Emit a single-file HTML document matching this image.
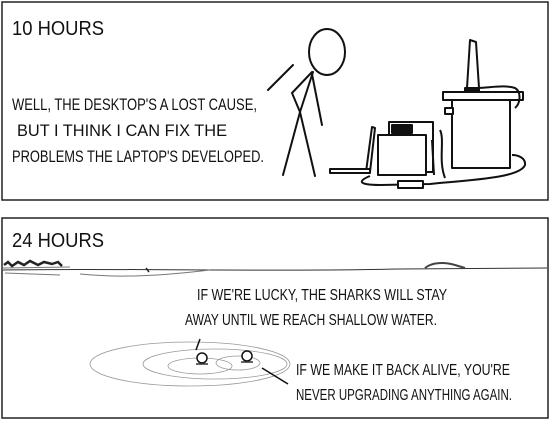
<!DOCTYPE html>
<html><head><meta charset="utf-8"><style>
html,body{margin:0;padding:0;background:#fff;}
svg{display:block;}
text{font-family:"Liberation Sans",sans-serif;fill:#111;}
</style></head><body>
<svg width="550" height="421" viewBox="0 0 550 421" xmlns="http://www.w3.org/2000/svg">
<g>
<rect x="2" y="2" width="546" height="198" fill="#fff" stroke="#222" stroke-width="1.5"/>
<text x="12" y="35" font-size="20" textLength="92" lengthAdjust="spacingAndGlyphs">10 HOURS</text>
<text x="12" y="110" font-size="17" textLength="245" lengthAdjust="spacingAndGlyphs">WELL, THE DESKTOP'S A LOST CAUSE,</text>
<text x="17" y="136" font-size="17" textLength="210" lengthAdjust="spacingAndGlyphs">BUT I THINK I CAN FIX THE</text>
<text x="12" y="162" font-size="17" textLength="252" lengthAdjust="spacingAndGlyphs">PROBLEMS THE LAPTOP'S DEVELOPED.</text>
<g fill="none" stroke="#111" stroke-width="2" stroke-linecap="round">
<ellipse cx="327" cy="52" rx="18" ry="23"/>
<path d="M313 72 L300 112 L283 175"/>
<path d="M300 112 L315 176"/>
<path d="M312 72 L292 93 L300 112"/>
<path d="M312 74 L322 125"/>
<path d="M293 65 L268 90"/>
</g>
<g fill="#fff" stroke="#111" stroke-width="2" stroke-linejoin="round">
<rect x="443" y="92" width="80" height="8"/>
<rect x="452" y="100" width="58" height="68"/>
<rect x="445" y="108" width="8" height="6"/>
<path d="M467 88 L470 40 L476 42 L479 88 Z"/>
<rect x="465" y="88" width="14" height="4" fill="#111"/>
<path d="M478 88 C495 87 505 85 515 88 C522 92 520 104 515 108" fill="none"/>
<rect x="389" y="122" width="44" height="50"/>
<rect x="392" y="125" width="20" height="8" fill="#111"/>
<rect x="378" y="135" width="48" height="40"/>
<path d="M432 140 L434 175" />
<path d="M366 172 L372 127 L375 128 L370 172"/>
<rect x="330" y="169" width="40" height="4"/>
<path d="M370 176 C360 180 355 185 380 185 L430 184 C470 180 520 178 525 165 C526 158 518 155 512 155" fill="none"/>
<rect x="398" y="181" width="25" height="7"/>
<path d="M440 130 C445 140 438 160 445 178" fill="none"/>
</g>
</g>
<g>
<rect x="2" y="218" width="546" height="200" fill="#fff" stroke="#222" stroke-width="1.5"/>
<text x="12" y="247" font-size="20" textLength="92" lengthAdjust="spacingAndGlyphs">24 HOURS</text>
<g stroke="#333" fill="none" stroke-width="1">
<path d="M3 270 C120 268 250 272 400 269 L547 268"/>
<path d="M3 268 L70 267 M5 273 L60 275 M80 274 C120 278 160 276 210 270" stroke="#777"/>
<path d="M4 265 L8 262 L12 266 L18 262 L24 265 L30 261 L38 265 L44 262 L52 264 L58 262 L62 266" stroke="#222" stroke-width="2.5"/>
<path d="M425 268 C432 262 445 262 455 265 L465 268" stroke="#444" stroke-width="2"/>
<path d="M146 268 L149 272" stroke="#222" stroke-width="1.5"/>
</g>
<g fill="none" stroke="#999" stroke-width="0.8">
<ellipse cx="190" cy="364" rx="100" ry="22"/>
<ellipse cx="215" cy="364" rx="72" ry="15"/>
<ellipse cx="200" cy="366" rx="32" ry="8"/>
<ellipse cx="238" cy="363" rx="22" ry="7"/>
</g>
<g fill="#fff" stroke="#111" stroke-width="1.5">
<circle cx="202" cy="358" r="5"/>
<circle cx="247" cy="356" r="5"/>
<path d="M196 364 L208 364 M241 362 L253 362" stroke="#333"/>
</g>
<g stroke="#111" stroke-width="1.5">
<path d="M200 339 L196 350"/>
<path d="M262 368 L288 384"/>
</g>
<text x="197" y="300" font-size="16" textLength="250" lengthAdjust="spacingAndGlyphs">IF WE'RE LUCKY, THE SHARKS WILL STAY</text>
<text x="185" y="325" font-size="16" textLength="252" lengthAdjust="spacingAndGlyphs">AWAY UNTIL WE REACH SHALLOW WATER.</text>
<text x="296" y="375" font-size="16" textLength="214" lengthAdjust="spacingAndGlyphs">IF WE MAKE IT BACK ALIVE, YOU'RE</text>
<text x="296" y="400" font-size="16" textLength="216" lengthAdjust="spacingAndGlyphs">NEVER UPGRADING ANYTHING AGAIN.</text>
</g>
</svg>
</body></html>
